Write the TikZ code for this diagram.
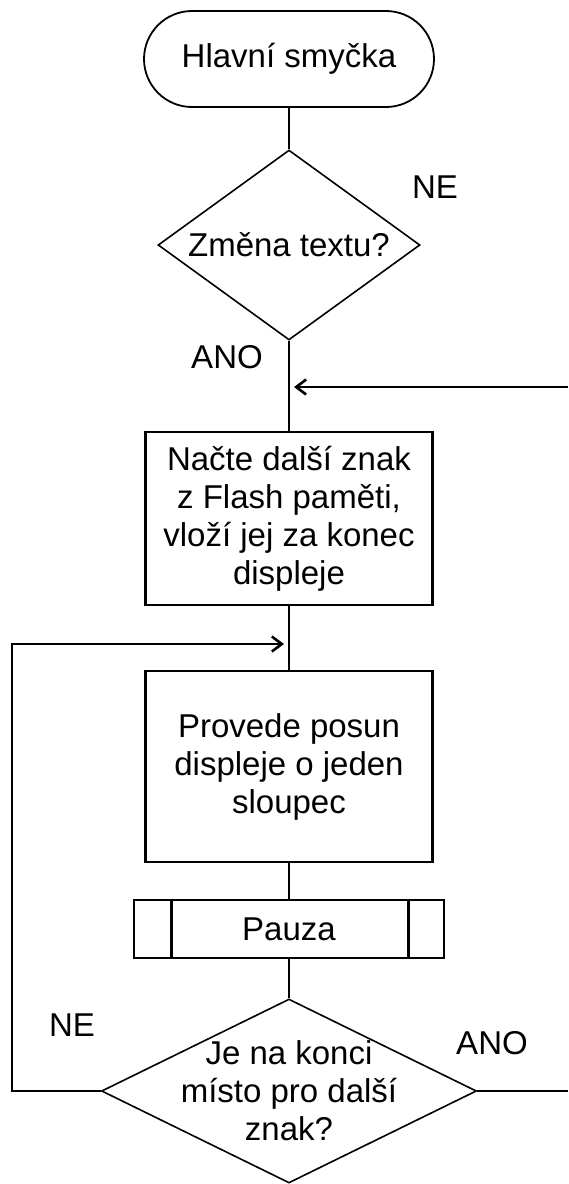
\documentclass[tikz,border=0pt]{standalone}
\usepackage{fontspec}
\setmainfont{Liberation Sans}
\usetikzlibrary{shapes.geometric,shapes.misc,arrows.meta,calc}
\begin{document}
\begin{tikzpicture}[x=1pt,y=-1pt,
  txt/.style={font=\fontsize{33pt}{38pt}\selectfont, align=center, inner sep=0pt},
  term/.style={rounded rectangle, draw, line width=1.8pt, minimum width=290pt, minimum height=96pt, txt},
  proc/.style={rectangle, draw, line width=2.6pt, minimum width=287pt, txt},
  decision/.style={diamond, draw, line width=1.6pt, inner sep=0pt},
  flow/.style={line width=2.6pt},
  arr/.style={flow, -{Straight Barb[length=10pt,width=15pt,line width=2.6pt]}, shorten >=5pt}]
\path[use as bounding box] (0,0) rectangle (568,1184);

% blocks of the main loop
\node[term] (start) at (289,59) {Hlavní smyčka};
\node[decision, minimum width=262pt, minimum height=190pt,
      label={[txt]center:{Změna textu?}}] (d1) at (289,245) {};
\node[proc, minimum height=173pt] (read) at (289,518.5)
  {Načte další znak\\z Flash paměti,\\vloží jej za konec\\displeje};
\node[proc, minimum height=191pt] (shift) at (289,766.5)
  {Provede posun\\displeje o jeden\\sloupec};
\node[proc, minimum width=310pt, minimum height=58pt] (pause) at (289,929) {Pauza};
\draw[line width=2.6pt] ($(pause.north west)+(39,0)$) -- ($(pause.south west)+(39,0)$);
\draw[line width=2.6pt] ($(pause.north east)+(-37,0)$) -- ($(pause.south east)+(-37,0)$);
\node[decision, minimum width=375pt, minimum height=184pt,
      label={[txt]center:{Je na konci\\místo pro další\\znak?}}] (d2) at (289,1091) {};

% branch labels
\node[txt] (ne1) at (435,187) {NE};
\node[txt] (ano1) at (227,357) {ANO};
\node[txt] (ne2) at (72,1025) {NE};
\node[txt] (ano2) at (492,1043) {ANO};

% connectors
\draw[flow] (start.south) -- (d1.north);
\draw[flow] (d1.south) -- (read.north);
\coordinate (inR) at (568,387);
\draw[arr] (inR) -- (inR -| read.north);
\draw[flow] (read.south) -- (shift.north);
\draw[flow] (shift.south) -- (pause.north);
\draw[flow] (pause.south) -- (d2.north);
\coordinate (outR) at (568,1091);
\draw[flow] (d2.east) -- (outR);
\coordinate (loopC) at (12,644);
\draw[arr] (d2.west) -- (d2.west -| loopC) -- (loopC) -- (loopC -| shift.north);
\end{tikzpicture}
\end{document}
